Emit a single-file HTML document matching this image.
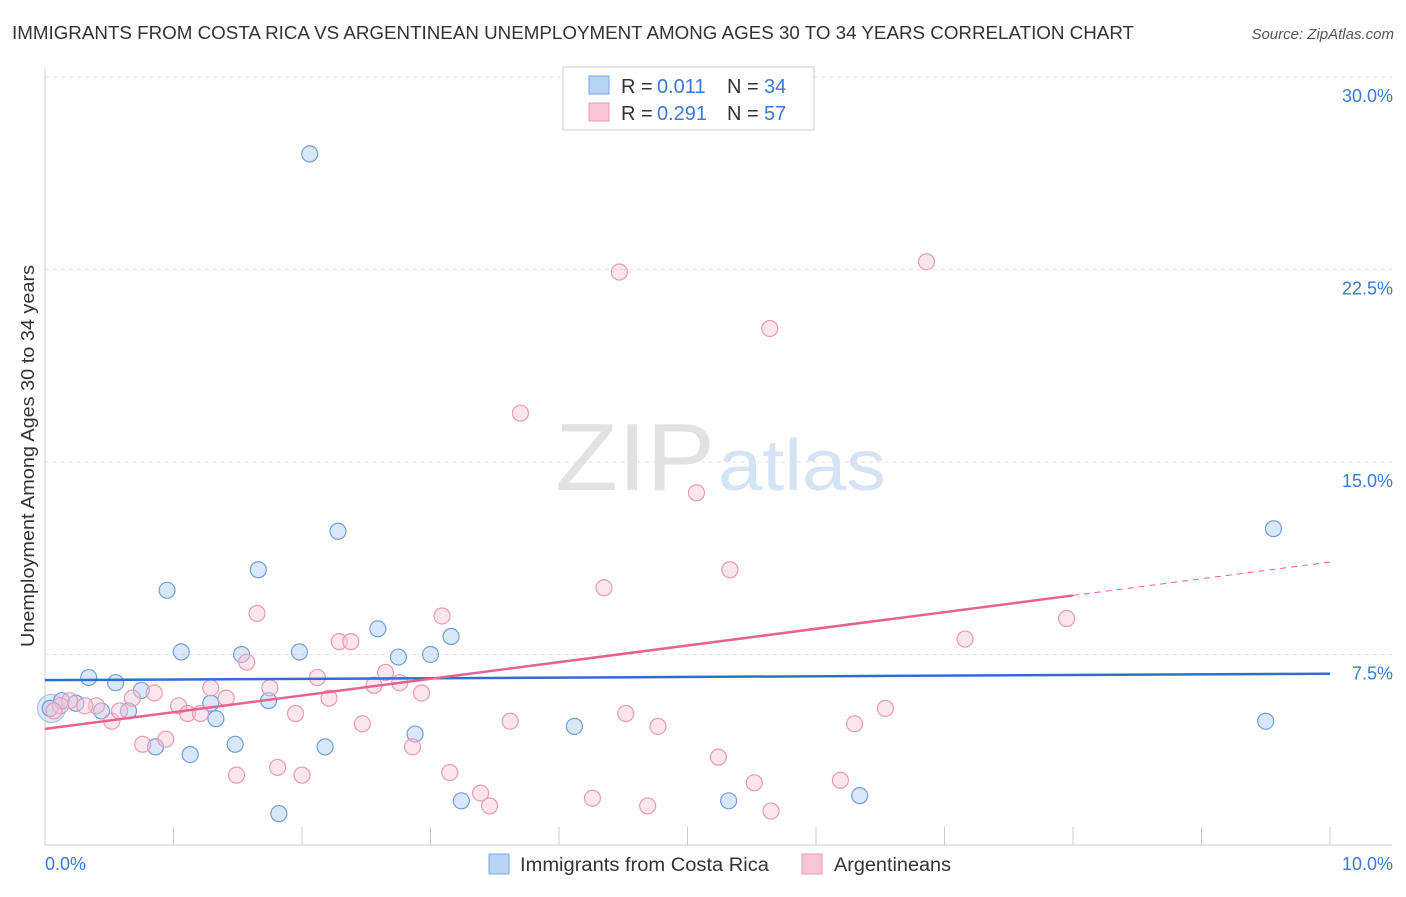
<!DOCTYPE html>
<html><head><meta charset="utf-8"><style>
body{margin:0;background:#fff;font-family:"Liberation Sans",sans-serif}
svg text{font-family:"Liberation Sans",sans-serif}
</style></head><body>
<svg width="1406" height="892">
<text x="12" y="39" font-size="18" fill="#333" textLength="1122" lengthAdjust="spacingAndGlyphs">IMMIGRANTS FROM COSTA RICA VS ARGENTINEAN UNEMPLOYMENT AMONG AGES 30 TO 34 YEARS CORRELATION CHART</text>
<text x="1394" y="39" font-size="15" fill="#555" font-style="italic" text-anchor="end">Source: ZipAtlas.com</text>
<text x="555" y="490" font-size="96" fill="#e2e2e2" textLength="160" lengthAdjust="spacingAndGlyphs" font-family="Liberation Serif">ZIP</text>
<text x="718" y="490" font-size="72" fill="#d5e4f5" textLength="168" lengthAdjust="spacingAndGlyphs">atlas</text>
<g id="grid"></g><g id="axes"></g><g id="marks"></g>
<text transform="translate(34,456) rotate(-90)" font-size="18" fill="#333" text-anchor="middle" textLength="382" lengthAdjust="spacingAndGlyphs">Unemployment Among Ages 30 to 34 years</text>
<g>
<rect x="563" y="67" width="251" height="63" fill="#fff" stroke="#ccc"/>
<rect x="589" y="76" width="20" height="18" fill="#b8d4f5" stroke="#7aa6dc"/>
<rect x="589" y="103" width="20" height="18" fill="#f8c6d6" stroke="#e99ab4"/>
<text x="621" y="93" font-size="20" fill="#333">R =</text>
<text x="657" y="93" font-size="20" fill="#3b78d8">0.011</text>
<text x="727" y="93" font-size="20" fill="#333">N =</text>
<text x="764" y="93" font-size="20" fill="#3b78d8">34</text>
<text x="621" y="120" font-size="20" fill="#333">R =</text>
<text x="657" y="120" font-size="20" fill="#3b78d8">0.291</text>
<text x="727" y="120" font-size="20" fill="#333">N =</text>
<text x="764" y="120" font-size="20" fill="#3b78d8">57</text>
</g>
<g>
<rect x="489" y="854" width="20" height="20" fill="#b8d4f5" stroke="#7aa6dc"/>
<text x="520" y="871" font-size="19" fill="#333" textLength="249" lengthAdjust="spacingAndGlyphs">Immigrants from Costa Rica</text>
<rect x="802" y="854" width="20" height="20" fill="#f8c6d6" stroke="#e99ab4"/>
<text x="834" y="871" font-size="19" fill="#333" textLength="117" lengthAdjust="spacingAndGlyphs">Argentineans</text>
</g>
</svg>
<script>
const xTicks=[0,1,2,3,4,5,6,7,8,9,10];
const yTicks=[7.5,15,22.5,30];
const yTickLabels=["7.5%","15.0%","22.5%","30.0%"];
const blueX=[2.06,2.28,1.66,0.95,1.06,1.53,1.98,2.59,3.16,2.75,3.0,0.34,0.55,0.75,0.13,0.24,0.44,0.65,1.29,1.33,1.74,1.48,0.86,1.13,2.18,2.88,1.82,3.24,4.12,5.32,6.34,9.56,9.5,0.04];
const blueY=[27.0,12.3,10.8,10.0,7.6,7.5,7.6,8.5,8.2,7.4,7.5,6.6,6.4,6.1,5.7,5.6,5.3,5.3,5.6,5.0,5.7,4.0,3.9,3.6,3.9,4.4,1.3,1.8,4.7,1.8,2.0,12.4,4.9,5.4];
const pinkX=[4.47,6.86,5.64,3.7,5.07,5.33,4.35,7.16,7.95,3.09,1.65,2.29,2.38,1.57,2.12,2.65,2.76,2.56,1.29,1.41,1.75,2.21,2.93,0.68,0.85,0.4,0.31,0.19,1.04,1.11,1.21,0.52,0.58,1.95,2.47,3.62,4.52,4.77,6.3,6.54,0.76,0.94,2.86,1.49,1.81,2.0,3.15,3.39,3.46,4.26,4.69,5.24,5.52,5.65,6.19,0.12,0.07];
const pinkY=[22.4,22.8,20.2,16.9,13.8,10.8,10.1,8.1,8.9,9.0,9.1,8.0,8.0,7.2,6.6,6.8,6.4,6.3,6.2,5.8,6.2,5.8,6.0,5.8,6.0,5.5,5.5,5.7,5.5,5.2,5.2,4.9,5.3,5.2,4.8,4.9,5.2,4.7,4.8,5.4,4.0,4.2,3.9,2.8,3.1,2.8,2.9,2.1,1.6,1.9,1.6,3.5,2.5,1.4,2.6,5.5,5.3];
const blueTrend=[[0,6.5],[10,6.75]];
const pinkTrend=[[0,4.6],[8,9.8]];
const pinkDash=[[8,9.8],[10,11.1]];
const X=v=>45+v*128.5, Y=v=>847-v*25.67;
const NS="http://www.w3.org/2000/svg";
function mk(p,t,a){const e=document.createElementNS(NS,t);for(const k in a)e.setAttribute(k,a[k]);document.getElementById(p).appendChild(e);return e;}
yTicks.forEach((t,i)=>{
 const l=mk('grid','line',{x1:45,x2:1392,y1:Y(t),y2:Y(t),stroke:'#e3e3e3','stroke-dasharray':'4,4'});
 
 
 const tx=mk('axes','text',{x:1393,y:Y(t)+25,'font-size':18,fill:'#3b78d8','text-anchor':'end'});
 tx.textContent=yTickLabels[i];
 
 
});
const ax=mk('axes','line',{x1:45,x2:1392,y1:845,y2:845,stroke:'#ccc'});


const ay=mk('axes','line',{x1:45,x2:45,y1:68,y2:845,stroke:'#ccc'});


xTicks.forEach(t=>{const l=mk('axes','line',{x1:X(t),x2:X(t),y1:827,y2:845,stroke:'#ccc'});
 
 });
[[0,"0.0%","start",45],[10,"10.0%","end",1393]].forEach(d=>{const t=mk('axes','text',{x:d[3],y:870,'font-size':18,fill:'#3b78d8','text-anchor':d[2]});t.textContent=d[1];
 
 });
const big1=mk('marks','circle',{cx:X(0.05),cy:Y(5.4),r:14,fill:'rgba(184,212,245,0.5)',stroke:'#9bbbe6'});


blueX.forEach((x,i)=>{const c=mk('marks','circle',{cx:X(x),cy:Y(blueY[i]),r:8,fill:'rgba(184,212,245,0.55)',stroke:'#6f9fd8','stroke-width':1.2});
 
 });
pinkX.forEach((x,i)=>{const c=mk('marks','circle',{cx:X(x),cy:Y(pinkY[i]),r:8,fill:'rgba(248,198,214,0.45)',stroke:'#e99ab4','stroke-width':1.2});
 
 });
const bt=mk('marks','line',{x1:X(blueTrend[0][0]),y1:Y(blueTrend[0][1]),x2:X(blueTrend[1][0]),y2:Y(blueTrend[1][1]),stroke:'#2f6fd0','stroke-width':2.5});


const pt=mk('marks','line',{x1:X(pinkTrend[0][0]),y1:Y(pinkTrend[0][1]),x2:X(pinkTrend[1][0]),y2:Y(pinkTrend[1][1]),stroke:'#e8628f','stroke-width':2.5});


const pd=mk('marks','line',{x1:X(pinkDash[0][0]),y1:Y(pinkDash[0][1]),x2:X(pinkDash[1][0]),y2:Y(pinkDash[1][1]),stroke:'#e8628f','stroke-width':1,'stroke-dasharray':'6,5'});


</script>
</body></html>
